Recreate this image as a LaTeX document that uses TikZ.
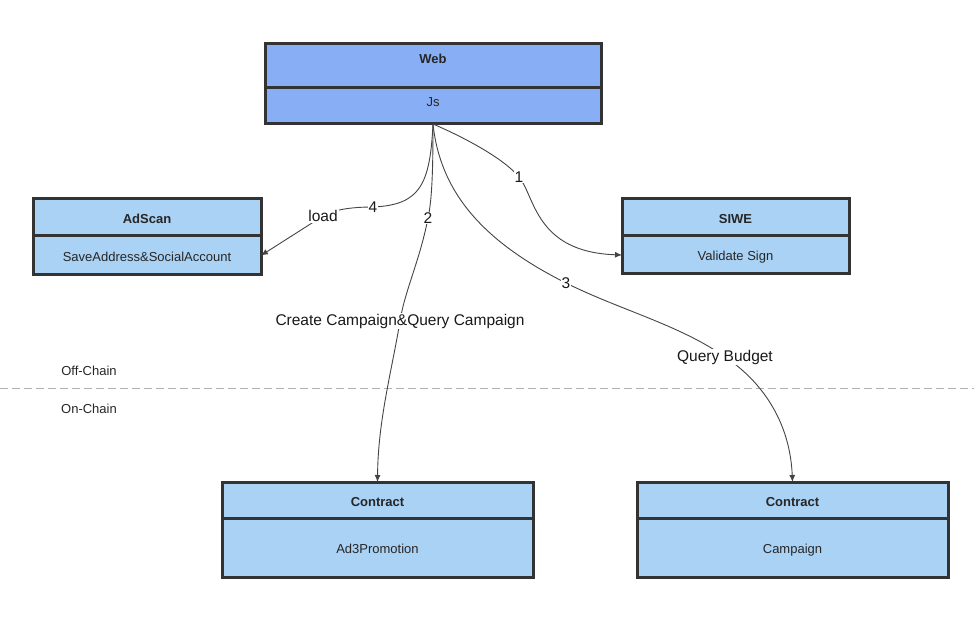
\documentclass[tikz,border=0pt]{standalone}
\usepackage{fontspec}
\setmainfont{Liberation Sans}
\usetikzlibrary{arrows.meta,positioning}
\definecolor{webblue}{RGB}{136,174,245}
\definecolor{boxblue}{RGB}{170,210,245}
\definecolor{boxline}{RGB}{51,51,51}
\definecolor{linkgray}{RGB}{68,68,68}
\definecolor{sepgray}{RGB}{176,176,176}

\begin{document}
\begin{tikzpicture}[x=1pt, y=-1pt,
  head/.style={draw=boxline, line width=3pt, fill=boxblue, inner sep=0pt, outer sep=0pt,
    text height=12pt, text depth=0pt, text=black!85, font=\bfseries\fontsize{13}{15}\selectfont},
  body/.style={head, font=\fontsize{13}{15}\selectfont},
  link/.style={draw=linkgray, line width=0.9pt, -{Latex[length=7pt,width=6pt]}},
  elab/.style={fill=white, inner sep=1pt, text=black!90, font=\fontsize{15.5}{18}\selectfont},
  zone/.style={text=black!85, font=\fontsize{13}{15}\selectfont}]
  \useasboundingbox (0,0) rectangle (974,620);

  % Web
  \node[head, fill=webblue, anchor=north west, minimum width=336pt, minimum height=44pt, text depth=17pt] (webHead) at (265,44) {Web};
  \node[body, fill=webblue, below=0pt of webHead, minimum width=336pt, minimum height=36pt, text depth=11pt] (webBody) {Js};

  % Other boxes
  \foreach \n/\x/\y/\w/\hh/\bh/\htext/\btext in {
    adscan/33/199/228/37/39/AdScan/{SaveAddress\&SocialAccount},
    siwe/622/199/227/37/38/SIWE/{Validate Sign},
    promo/222/482/311/36/59/Contract/Ad3Promotion,
    campaign/637/482/311/36/59/Contract/Campaign}
  {
    \node[head, anchor=north west, minimum width=\w pt, minimum height=\hh pt] (\n Head) at (\x,\y) {\htext};
    \node[body, below=0pt of \n Head, minimum width=\w pt, minimum height=\bh pt] (\n Body) {\btext};
  }

  % Chain border
  \draw[sepgray, line width=0.8pt, dash pattern=on 8pt off 4pt] (0,388) -- (974,388);
  \node[zone] (offChain) at (89,371) {Off-Chain};
  \node[zone] (onChain) at (89,409) {On-Chain};

  % 1: sign check
  \draw[link] (webBody.south) .. controls (470,140) and (505,160) .. (519,177) node[elab] {1}
    .. controls (535,196) and (535,252) .. (siweBody.west);

  % 4: load
  \draw[link] (webBody.south) .. controls (430,185) and (420,205) .. (373,207) node[elab] {4}
    .. controls (350,207) and (333,210) .. (323,216) node[elab] {load} -- (adscanBody.east);

  % 2: campaigns
  \draw[link] (webBody.south) .. controls (433,170) and (432,200) .. (428,218) node[elab] {2}
    .. controls (420,260) and (405,290) .. (400,321) node[elab] {Create Campaign\&Query Campaign}
    .. controls (392,370) and (378,420) .. (promoHead.north);

  % 3: budget
  \draw[link] (webBody.south) .. controls (440,190) and (480,240) .. (566,283) node[elab] {3}
    .. controls (620,310) and (680,325) .. (725,357) node[elab] {Query Budget}
    .. controls (760,380) and (790,420) .. (campaignHead.north);
\end{tikzpicture}
\end{document}
